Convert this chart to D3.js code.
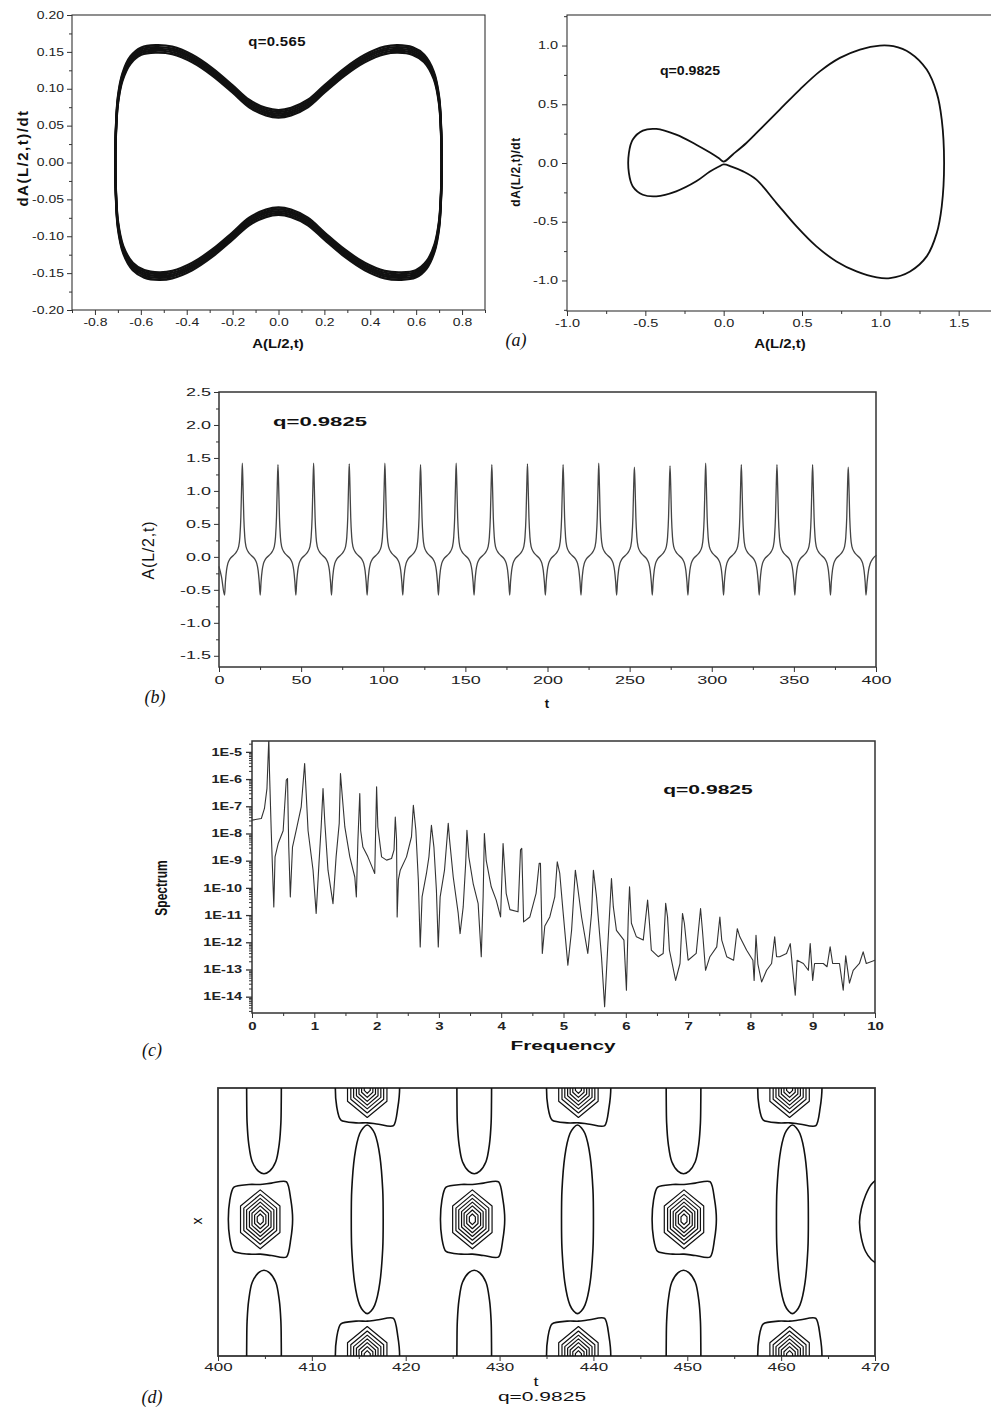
<!DOCTYPE html>
<html>
<head>
<meta charset="utf-8">
<style>
  body { margin: 0; background: #fff; }
  svg { display: block; }
  .frame { fill: none; stroke: #333; }
  .curve { fill: none; stroke-linejoin: round; stroke-linecap: round; }
</style>
<script src="https://d3js.org/d3.v7.min.js"></script>
</head>
<body>
<script>
// ---------- panel (a), left : q = 0.565 phase portrait ----------
var a1XTicks = [-0.8, -0.6, -0.4, -0.2, 0, 0.2, 0.4, 0.6, 0.8];
var a1YTicks = [-0.20, -0.15, -0.10, -0.05, 0, 0.05, 0.10, 0.15, 0.20];
// one turn of the orbit [A, dA/dt]
var a1Orbit = [
  [-0.711, 0], [-0.709, 0.039], [-0.700, 0.084], [-0.680, 0.116], [-0.645, 0.139], [-0.598, 0.151],
  [-0.536, 0.154], [-0.463, 0.152], [-0.376, 0.141], [-0.289, 0.123], [-0.201, 0.100], [-0.128, 0.080],
  [-0.055, 0.069], [0, 0.066], [0.055, 0.069], [0.128, 0.080], [0.201, 0.100], [0.289, 0.123],
  [0.376, 0.141], [0.463, 0.152], [0.520, 0.154], [0.585, 0.151], [0.635, 0.141], [0.677, 0.118],
  [0.700, 0.084], [0.709, 0.039], [0.711, 0],
  [0.709, -0.039], [0.700, -0.084], [0.680, -0.116], [0.645, -0.139], [0.598, -0.151], [0.536, -0.154],
  [0.463, -0.152], [0.376, -0.141], [0.289, -0.123], [0.201, -0.100], [0.128, -0.080], [0.055, -0.069],
  [0, -0.066], [-0.055, -0.069], [-0.128, -0.080], [-0.201, -0.100], [-0.289, -0.123], [-0.376, -0.141],
  [-0.463, -0.152], [-0.520, -0.154], [-0.585, -0.151], [-0.635, -0.141], [-0.677, -0.118],
  [-0.700, -0.084], [-0.709, -0.039]
];
// spread of the band in dA/dt (orbit drifts slightly from turn to turn)
var a1Spread = [-0.005, -0.0025, 0, 0.0025, 0.005];

// ---------- panel (a), right : q = 0.9825 phase portrait ----------
var a2XTicks = [-1.0, -0.5, 0, 0.5, 1.0, 1.5];
var a2YTicks = [-1.0, -0.5, 0, 0.5, 1.0];
var a2Orbit = [
  [0.0, 0.012], [0.06, 0.075], [0.145, 0.17], [0.25, 0.31], [0.358, 0.455], [0.486, 0.625],
  [0.614, 0.78], [0.742, 0.895], [0.87, 0.966], [0.997, 1.0], [1.083, 0.994], [1.19, 0.937],
  [1.296, 0.795], [1.36, 0.597], [1.392, 0.369], [1.407, 0], [1.392, -0.369], [1.36, -0.597],
  [1.296, -0.795], [1.19, -0.923], [1.062, -0.98], [0.977, -0.974], [0.848, -0.923], [0.72, -0.838],
  [0.592, -0.71], [0.465, -0.54], [0.337, -0.341], [0.209, -0.142], [0.124, -0.071], [0.05, -0.03],
  [0.0, -0.012], [-0.03, -0.03], [-0.09, -0.075], [-0.175, -0.156], [-0.303, -0.241], [-0.43, -0.284],
  [-0.516, -0.27], [-0.58, -0.2], [-0.605, -0.085], [-0.605, 0.085], [-0.58, 0.2], [-0.516, 0.276],
  [-0.43, 0.29], [-0.303, 0.241], [-0.175, 0.156], [-0.09, 0.091], [-0.03, 0.04]
];

// ---------- panel (b) : A(L/2,t) time series ----------
var bXTicks = [0, 50, 100, 150, 200, 250, 300, 350, 400];
var bYTicks = [-1.5, -1.0, -0.5, 0, 0.5, 1.0, 1.5, 2.0, 2.5];
var bPeakT = [14.2, 35.9, 57.6, 79.3, 101.0, 122.7, 144.4, 166.1, 187.8, 209.5, 231.2, 252.9,
              274.6, 296.3, 318.0, 339.7, 361.4, 383.1];
var bPeakA = [1.42, 1.40, 1.42, 1.41, 1.42, 1.40, 1.42, 1.40, 1.41, 1.40, 1.42, 1.36,
              1.38, 1.42, 1.40, 1.40, 1.40, 1.36];
// shape of one pulse around its peak (time offset, value); null = peak value
var bPulseDt = [-10.8, -10.3, -9.6, -8.8, -7.5, -5.5, -3.5, -2.3, -1.5, -0.9, -0.4, 0,
                0.4, 0.9, 1.5, 2.3, 3.5, 5.5, 7.5, 8.8, 9.6, 10.3];
var bPulseA  = [-0.58, -0.38, -0.2, -0.1, -0.03, 0.02, 0.08, 0.15, 0.3, 0.6, 1.1, null,
                1.1, 0.6, 0.3, 0.15, 0.08, 0.02, -0.03, -0.1, -0.2, -0.38];
var bHead = [[0, -0.15], [1.5, -0.3]];
var bTail = [[393.9, -0.58], [394.6, -0.38], [395.5, -0.2], [396.5, -0.1], [398, -0.03], [400, 0.02]];

// ---------- panel (c) : spectrum ----------
var cXTicks = [0, 1, 2, 3, 4, 5, 6, 7, 8, 9, 10];
var cYExp = [-5, -6, -7, -8, -9, -10, -11, -12, -13, -14];
// [frequency, log10(spectrum)]
var cSpectrum = [
  [0, -7.51], [0.15, -7.45], [0.2, -7.08], [0.24, -6.35], [0.27, -4.5], [0.28, -5.67], [0.31, -8.0],
  [0.35, -10.7], [0.37, -8.86], [0.42, -8.37], [0.5, -7.9], [0.55, -6.04], [0.57, -5.98], [0.59, -8.5],
  [0.615, -10.33], [0.65, -8.5], [0.71, -7.88], [0.79, -7.02], [0.845, -5.43], [0.87, -6.53], [0.9, -7.9],
  [0.98, -9.35], [1.03, -10.94], [1.075, -9.1], [1.11, -7.76], [1.14, -6.35], [1.17, -7.63], [1.22, -9.35],
  [1.30, -10.58], [1.35, -8.86], [1.40, -7.63], [1.42, -5.8], [1.45, -6.65], [1.49, -7.76], [1.57, -8.86],
  [1.65, -9.6], [1.675, -10.33], [1.70, -8.25], [1.73, -6.53], [1.745, -7.9], [1.78, -8.5], [1.86, -8.86],
  [1.94, -9.3], [1.97, -9.47], [2.0, -6.28], [2.02, -7.76], [2.08, -8.86], [2.16, -8.98], [2.24, -8.92],
  [2.28, -8.6], [2.30, -7.4], [2.32, -8.2], [2.33, -11.07], [2.35, -9.7], [2.38, -9.35], [2.48, -8.86],
  [2.56, -8.12], [2.59, -6.96], [2.63, -7.88], [2.67, -9.72], [2.70, -12.17], [2.73, -10.33], [2.80, -9.47],
  [2.84, -8.86], [2.88, -7.7], [2.92, -8.5], [2.96, -10.08], [2.99, -12.17], [3.02, -10.33], [3.09, -9.35],
  [3.15, -7.63], [3.17, -8.2], [3.23, -9.6], [3.31, -10.94], [3.34, -11.68], [3.39, -10.7], [3.43, -9.1],
  [3.45, -7.88], [3.48, -8.86], [3.55, -9.84], [3.63, -10.58], [3.68, -12.53], [3.71, -10.33], [3.73, -8.0],
  [3.76, -9.0], [3.84, -9.96], [3.92, -10.45], [3.99, -11.07], [4.03, -8.37], [4.08, -10.2], [4.14, -10.8],
  [4.27, -10.88], [4.31, -8.6], [4.33, -8.55], [4.36, -11.25], [4.46, -11.07], [4.56, -10.2], [4.61, -9.1],
  [4.63, -9.1], [4.66, -12.41], [4.70, -11.4], [4.78, -11.07], [4.86, -10.33], [4.90, -9.04], [4.94, -9.47],
  [4.99, -10.8], [5.07, -12.84], [5.13, -11.56], [5.19, -9.35], [5.22, -9.84], [5.29, -11.07], [5.39, -12.41],
  [5.45, -10.94], [5.48, -9.35], [5.53, -10.33], [5.61, -12.53], [5.66, -14.37], [5.71, -12.17], [5.77, -9.66],
  [5.80, -10.7], [5.85, -11.56], [5.97, -11.92], [6.01, -13.76], [6.04, -11.07], [6.06, -9.96], [6.09, -11.3],
  [6.17, -11.8], [6.28, -11.92], [6.35, -10.45], [6.38, -11.3], [6.41, -12.29], [6.52, -12.53], [6.60, -12.41],
  [6.64, -10.57], [6.67, -11.07], [6.70, -12.29], [6.80, -13.4], [6.87, -12.78], [6.91, -10.94], [6.94, -11.3],
  [7.0, -12.66], [7.13, -12.41], [7.20, -10.76], [7.23, -11.56], [7.28, -13.03], [7.35, -12.53], [7.46, -12.17],
  [7.51, -11.07], [7.54, -11.92], [7.62, -12.53], [7.73, -12.66], [7.79, -11.5], [7.83, -11.8], [7.94, -12.29],
  [8.04, -12.66], [8.06, -13.4], [8.09, -11.74], [8.12, -12.8], [8.18, -13.46], [8.26, -13.03], [8.34, -12.78],
  [8.39, -11.8], [8.42, -12.53], [8.47, -12.53], [8.58, -12.41], [8.64, -12.05], [8.68, -13.03], [8.72, -13.95],
  [8.75, -12.66], [8.85, -12.78], [8.93, -13.03], [8.96, -12.05], [9.0, -13.4], [9.03, -12.78], [9.17, -12.78],
  [9.23, -12.9], [9.28, -12.17], [9.32, -12.78], [9.43, -12.78], [9.49, -13.76], [9.53, -12.5], [9.59, -13.5],
  [9.65, -13.03], [9.75, -12.78], [9.81, -12.35], [9.86, -12.78], [10.0, -12.66]
];

// ---------- panel (d) : contour plot ----------
var dXTicks = [400, 410, 420, 430, 440, 450, 460, 470];
var dMidVortexT = [404.5, 427.1, 449.65];   // vortices at mid height
var dEdgeVortexT = [415.9, 438.4, 460.9];   // vortices cut by top and bottom edges
var dLensT = [415.9, 438.3, 461.2];
var dTongueT = [404.9, 427.3, 449.6];
var dMidY = 0.51;
// outer contour of a vortex, offsets [dt, dx]
var dBarrel = [[-3.4, 0], [-3.25, 0.07], [-2.8, 0.12], [-1.2, 0.13], [0, 0.13], [1.2, 0.135], [2.8, 0.14],
               [3.25, 0.075], [3.45, 0], [3.25, -0.075], [2.8, -0.14], [1.2, -0.135], [0, -0.13],
               [-1.2, -0.13], [-2.8, -0.12], [-3.25, -0.07]];
// nested rings inside a vortex
var dRingHalfW = [2.1, 1.75, 1.45, 1.15, 0.88, 0.6, 0.32];
var dRingHalfH = [0.11, 0.093, 0.078, 0.064, 0.05, 0.035, 0.02];
var dHex = [[0, 1], [1, 0.45], [1, -0.45], [0, -1], [-1, -0.45], [-1, 0.45]];
// long closed contour between vortices
var dLens = [[0, 0.352], [0.8, 0.32], [1.35, 0.235], [1.65, 0.11], [1.7, 0], [1.65, -0.11], [1.35, -0.235],
             [0.8, -0.32], [0, -0.352], [-0.8, -0.32], [-1.35, -0.235], [-1.65, -0.11], [-1.7, 0],
             [-1.65, 0.11], [-1.35, 0.235], [-0.8, 0.32]];
// open contour entering from an edge, [dt, depth from edge]
var dTongue = [[-1.85, -0.02], [-1.84, 0.05], [-1.8, 0.13], [-1.62, 0.21], [-1.25, 0.275], [-0.6, 0.31],
               [0, 0.32], [0.6, 0.31], [1.25, 0.275], [1.62, 0.21], [1.8, 0.13], [1.84, 0.05], [1.85, -0.02]];
var dRightArc = [[470.4, 0.665], [469.6, 0.64], [469.0, 0.6], [468.55, 0.55], [468.35, 0.5],
                 [468.55, 0.44], [469.0, 0.39], [469.6, 0.36], [470.4, 0.34]];

// ================= drawing =================
var FONT = '"Liberation Sans", Arial, sans-serif';
var svg = d3.select("body").append("svg").attr("width", 991).attr("height", 1410);
var defs = svg.append("defs");

function clip(id, x0, y0, x1, y1) {
  defs.append("clipPath").attr("id", id).append("rect")
    .attr("x", x0).attr("y", y0).attr("width", x1 - x0).attr("height", y1 - y0);
}

// stretch tick labels horizontally, the figure is wide-scaled
function stretch(sel, sx) {
  sel.each(function () {
    var t = d3.select(this);
    var x = +t.attr("x") || 0;
    t.attr("x", x / sx).attr("transform", "scale(" + sx + ",1)");
  });
}

function axis(gen, tr, o) {
  var g = svg.append("g").attr("transform", tr).call(gen);
  g.select(".domain").remove();
  g.attr("font-family", FONT).attr("font-size", o.fs || 10);
  g.selectAll(".tick line").attr("stroke", "#333").attr("stroke-width", o.tw || 1);
  g.selectAll(".tick text").attr("fill", "#222").attr("font-weight", o.fw || "normal");
  if (o.sx) stretch(g.selectAll(".tick text"), o.sx);
  return g;
}

function label(x, y, txt, o) {
  o = o || {};
  var tr = "translate(" + x + "," + y + ") scale(" + (o.sx || 1) + ",1)";
  if (o.rot) tr += " rotate(" + o.rot + ")";
  return svg.append("text").attr("transform", tr)
    .attr("text-anchor", o.anchor || "middle").attr("dominant-baseline", "central")
    .attr("font-family", o.family || FONT).attr("font-size", o.size || 12)
    .attr("font-weight", o.weight || "normal").attr("font-style", o.style || "normal")
    .attr("letter-spacing", o.ls || 0).attr("fill", "#111").text(txt);
}

function frame(x0, y0, x1, y1, w, c) {
  svg.append("rect").attr("class", "frame").attr("x", x0).attr("y", y0)
    .attr("width", x1 - x0).attr("height", y1 - y0)
    .attr("stroke-width", w).attr("stroke", c || "#333");
}

// ----- (a) left -----
var a1x = d3.scaleLinear().domain([-0.9, 0.9]).range([72, 485]);
var a1y = d3.scaleLinear().domain([-0.2, 0.2]).range([310, 15]);
frame(72, 15, 485, 310, 1.1, "#555");
axis(d3.axisLeft(a1y).tickValues(a1YTicks).tickSize(5).tickPadding(3).tickFormat(function (v) { return v.toFixed(2); }),
  "translate(72,0)", { fs: 10, sx: 1.4 });
axis(d3.axisLeft(a1y).tickValues(d3.range(-0.175, 0.2, 0.05)).tickSize(3).tickFormat(""), "translate(72,0)", {});
axis(d3.axisBottom(a1x).tickValues(a1XTicks).tickSize(5).tickPadding(4).tickFormat(function (v) { return v.toFixed(1); }),
  "translate(0,310)", { fs: 10, sx: 1.4 });
axis(d3.axisBottom(a1x).tickValues(d3.range(-0.9, 0.95, 0.2)).tickSize(3).tickFormat(""), "translate(0,310)", {});
clip("clipA1", 72, 15, 485, 310);
var a1Line = d3.line().curve(d3.curveCatmullRomClosed);
a1Spread.forEach(function (s) {
  svg.append("path").attr("class", "curve").attr("clip-path", "url(#clipA1)")
    .attr("d", a1Line.x(function (p) { return a1x(p[0]); }).y(function (p) { return a1y(p[1] + s); })(a1Orbit))
    .attr("stroke", "#111").attr("stroke-width", 2.3);
});
label(277, 41, "q=0.565", { size: 13, weight: "bold", sx: 1.15, ls: 0.3 });
label(278, 343, "A(L/2,t)", { size: 13, weight: "bold", sx: 1.15 });
label(22, 158, "dA(L/2,t)/dt", { size: 15, weight: "bold", rot: -90, ls: 1.5 });

// ----- (a) right -----
var a2x = d3.scaleLinear().domain([-1.0, 1.7]).range([567, 990]);
var a2y = d3.scaleLinear().domain([-1.26, 1.26]).range([311, 15]);
frame(567, 15, 993, 311, 1.1, "#555");
axis(d3.axisLeft(a2y).tickValues(a2YTicks).tickSize(5).tickPadding(4).tickFormat(function (v) { return v.toFixed(1); }),
  "translate(567,0)", { fs: 10, sx: 1.45 });
axis(d3.axisLeft(a2y).tickValues([-1.25, -0.75, -0.25, 0.25, 0.75, 1.25]).tickSize(3).tickFormat(""), "translate(567,0)", {});
axis(d3.axisBottom(a2x).tickValues(a2XTicks).tickSize(5).tickPadding(4).tickFormat(function (v) { return v.toFixed(1); }),
  "translate(0,311)", { fs: 10, sx: 1.45 });
axis(d3.axisBottom(a2x).tickValues([-0.75, -0.25, 0.25, 0.75, 1.25]).tickSize(3).tickFormat(""), "translate(0,311)", {});
svg.append("path").attr("class", "curve")
  .attr("d", d3.line().x(function (p) { return a2x(p[0]); }).y(function (p) { return a2y(p[1]); })
    .curve(d3.curveCatmullRomClosed)(a2Orbit))
  .attr("stroke", "#111").attr("stroke-width", 1.8);
label(690, 71, "q=0.9825", { size: 12, weight: "bold", sx: 1.18 });
label(780, 343, "A(L/2,t)", { size: 13, weight: "bold", sx: 1.15 });
label(516, 172, "dA(L/2,t)/dt", { size: 12, weight: "bold", rot: -90, ls: 0.5 });
label(516, 340, "(a)", { size: 18, style: "italic", family: '"Liberation Serif", serif' });

// ----- (b) -----
var bx = d3.scaleLinear().domain([0, 400]).range([219, 876]);
var by = d3.scaleLinear().domain([-1.67, 2.5]).range([667, 392]);
frame(219, 392, 876, 667, 1.5, "#222");
axis(d3.axisLeft(by).tickValues(bYTicks).tickSize(5).tickPadding(3).tickFormat(function (v) { return v.toFixed(1); }),
  "translate(219,0)", { fs: 10, sx: 1.8 });
axis(d3.axisLeft(by).tickValues(d3.range(-1.25, 2.5, 0.5)).tickSize(3).tickFormat(""), "translate(219,0)", {});
axis(d3.axisBottom(bx).tickValues(bXTicks).tickSize(5).tickPadding(5).tickFormat(d3.format("d")),
  "translate(0,667)", { fs: 10, sx: 1.8 });
axis(d3.axisBottom(bx).tickValues(d3.range(25, 400, 50)).tickSize(3).tickFormat(""), "translate(0,667)", {});
var bSeries = bHead.slice();
bPeakT.forEach(function (t0, i) {
  bPulseDt.forEach(function (dt, j) {
    bSeries.push([t0 + dt, bPulseA[j] === null ? bPeakA[i] : bPulseA[j]]);
  });
});
bTail.forEach(function (p) { bSeries.push(p); });
svg.append("path").attr("class", "curve")
  .attr("d", d3.line().x(function (p) { return bx(p[0]); }).y(function (p) { return by(p[1]); })
    .curve(d3.curveMonotoneX)(bSeries))
  .attr("stroke", "#444").attr("stroke-width", 1.3);
label(320, 422, "q=0.9825", { size: 13, weight: "bold", sx: 1.7 });
label(547, 703, "t", { size: 13, weight: "bold" });
label(148, 550, "A(L/2,t)", { size: 16, rot: -90, ls: 0.8 });
label(155, 697, "(b)", { size: 18, style: "italic", family: '"Liberation Serif", serif' });

// ----- (c) -----
var cx = d3.scaleLinear().domain([0, 10]).range([252, 875]);
var cy = d3.scaleLog().domain([Math.pow(10, -14.6), Math.pow(10, -4.6)]).range([1013, 741]);
frame(252, 741, 875, 1013, 1.5, "#222");
axis(d3.axisLeft(cy).tickValues(cYExp.map(function (e) { return Math.pow(10, e); })).tickSize(6).tickPadding(4)
  .tickFormat(function (v) { return "1E" + Math.round(Math.log10(v)); }),
  "translate(252,0)", { fs: 10, fw: "bold", sx: 1.45, tw: 1.3 });
var cMinor = [];
d3.range(-15, -4).forEach(function (e) {
  d3.range(2, 10).forEach(function (m) {
    var v = m * Math.pow(10, e);
    if (v > cy.domain()[0] && v < cy.domain()[1]) cMinor.push(v);
  });
});
axis(d3.axisLeft(cy).tickValues(cMinor).tickSize(3).tickFormat(""), "translate(252,0)", {});
axis(d3.axisBottom(cx).tickValues(cXTicks).tickSize(5).tickPadding(5).tickFormat(d3.format("d")),
  "translate(0,1013)", { fs: 10, fw: "bold", sx: 1.5 });
axis(d3.axisBottom(cx).tickValues(d3.range(0.5, 10, 1)).tickSize(3).tickFormat(""), "translate(0,1013)", {});
clip("clipC", 252, 741, 875, 1013);
svg.append("path").attr("class", "curve").attr("clip-path", "url(#clipC)")
  .attr("d", d3.line().x(function (p) { return cx(p[0]); }).y(function (p) { return cy(Math.pow(10, p[1])); })(cSpectrum))
  .attr("stroke", "#333").attr("stroke-width", 1.1);
label(708, 790, "q=0.9825", { size: 13, weight: "bold", sx: 1.62 });
label(563, 1046, "Frequency", { size: 13, weight: "bold", sx: 1.6 });
label(161, 888, "Spectrum", { size: 12, weight: "bold", rot: -90, sx: 1.3 });
label(152, 1050, "(c)", { size: 18, style: "italic", family: '"Liberation Serif", serif' });

// ----- (d) -----
var dx = d3.scaleLinear().domain([400, 470]).range([218, 875]);
var dy = d3.scaleLinear().domain([0, 1]).range([1356, 1088]);
frame(218, 1088, 875, 1356, 1.8, "#111");
axis(d3.axisBottom(dx).tickValues(dXTicks).tickSize(5).tickPadding(3).tickFormat(d3.format("d")),
  "translate(0,1356)", { fs: 10, sx: 1.7 });
axis(d3.axisBottom(dx).tickValues(d3.range(405, 470, 10)).tickSize(3).tickFormat(""), "translate(0,1356)", {});
clip("clipD", 218, 1088, 875, 1356);
var gD = svg.append("g").attr("clip-path", "url(#clipD)");

function shapeAt(pts, t0, y0) {
  return pts.map(function (p) { return [t0 + p[0], y0 + p[1]]; });
}
var dClosed = d3.line().x(function (p) { return dx(p[0]); }).y(function (p) { return dy(p[1]); })
  .curve(d3.curveCardinalClosed.tension(0.2));
var dPoly = d3.line().x(function (p) { return dx(p[0]); }).y(function (p) { return dy(p[1]); })
  .curve(d3.curveLinearClosed);
var dOpen = d3.line().x(function (p) { return dx(p[0]); }).y(function (p) { return dy(p[1]); })
  .curve(d3.curveCatmullRom);

function contour(d, w) {
  gD.append("path").attr("class", "curve").attr("d", d).attr("stroke", "#111").attr("stroke-width", w);
}
function vortex(t0, y0) {
  contour(dClosed(shapeAt(dBarrel, t0, y0)), 1.6);
  dRingHalfW.forEach(function (hw, i) {
    var hh = dRingHalfH[i];
    contour(dPoly(dHex.map(function (p) { return [t0 + p[0] * hw, y0 + p[1] * hh]; })), 1.2);
  });
}
dMidVortexT.forEach(function (t) { vortex(t, dMidY); });
dEdgeVortexT.forEach(function (t) { vortex(t, 1); vortex(t, 0); });
dLensT.forEach(function (t) { contour(dClosed(shapeAt(dLens, t, dMidY)), 1.6); });
dTongueT.forEach(function (t) {
  contour(dOpen(dTongue.map(function (p) { return [t + p[0], 1 - p[1]]; })), 1.6);
  contour(dOpen(dTongue.map(function (p) { return [t + p[0], p[1]]; })), 1.6);
});
contour(dOpen(dRightArc), 1.6);

label(536, 1382, "t", { size: 12, sx: 1.5 });
label(542, 1397, "q=0.9825", { size: 12, sx: 1.75 });
label(197, 1221, "x", { size: 14, rot: -90 });
label(152, 1397, "(d)", { size: 18, style: "italic", family: '"Liberation Serif", serif' });
</script>
</body>
</html>
